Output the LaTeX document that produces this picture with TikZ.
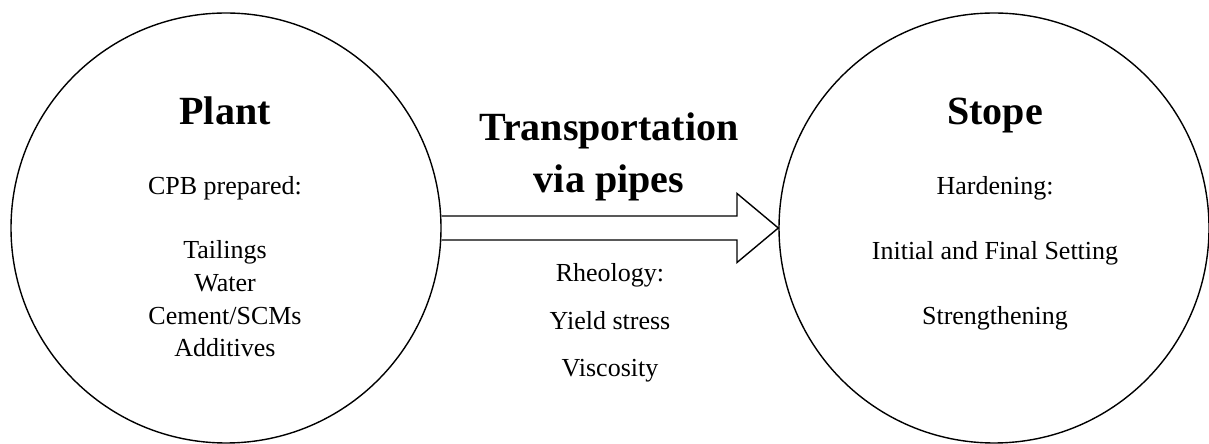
\documentclass[tikz,border=0pt]{standalone}
\usepackage{fontspec}
\setmainfont{Liberation Serif}
\usepackage{tikz}
\usetikzlibrary{positioning,calc}

\tikzset{
  stage/.style={draw,circle,line width=1.4bp,minimum size=430bp,inner sep=0pt},
  title/.style={font=\fontsize{40bp}{52bp}\selectfont\bfseries,align=center,anchor=base},
  body/.style={font=\fontsize{26bp}{32.7bp}\selectfont,align=center,anchor=base},
  pipe/.style={line width=1.4bp,line join=miter},
}

\begin{document}
\begin{tikzpicture}[line join=bevel,]
\useasboundingbox (0,0) rectangle (1209bp,444bp);
%%
\node (plant) at (226bp,216bp) [stage] {};
  \node (stope) at (994bp,216bp) [stage] {};
  \node (plantT) at (225bp,319bp) [title] {Plant};
  \node (cpb) at (225bp,249bp) [body] {CPB prepared:};
  % base of a multi-line node is its last line
  \node (mix) at (225bp,87bp) [body] {Tailings\\Water\\Cement/SCMs\\Additives};
  \node (stopeT) at (995bp,319bp) [title] {Stope};
  \node (hard) at (995bp,249bp) [body] {Hardening:};
  \node (setting) at (995bp,184bp) [body] {Initial and Final Setting};
  \node (strength) at (995bp,119bp) [body] {Strengthening};
  \node (transp) at (609bp,251bp) [title] {Transportation\\via pipes};
  \node (rheo) at (610bp,162bp) [body] {Rheology:};
  \node (yield) at (610bp,114bp) [body] {Yield stress};
  \node (visc) at (610bp,67bp) [body] {Viscosity};
%
  \coordinate (hb) at (737bp,216bp);
  \draw [pipe] ([yshift=12bp]plant.east) -- ([yshift=12bp]hb) -- ([yshift=34.5bp]hb)
    -- (stope.west) -- ([yshift=-34.5bp]hb) -- ([yshift=-12bp]hb) -- ([yshift=-12bp]plant.east);
%
\end{tikzpicture}
\end{document}
